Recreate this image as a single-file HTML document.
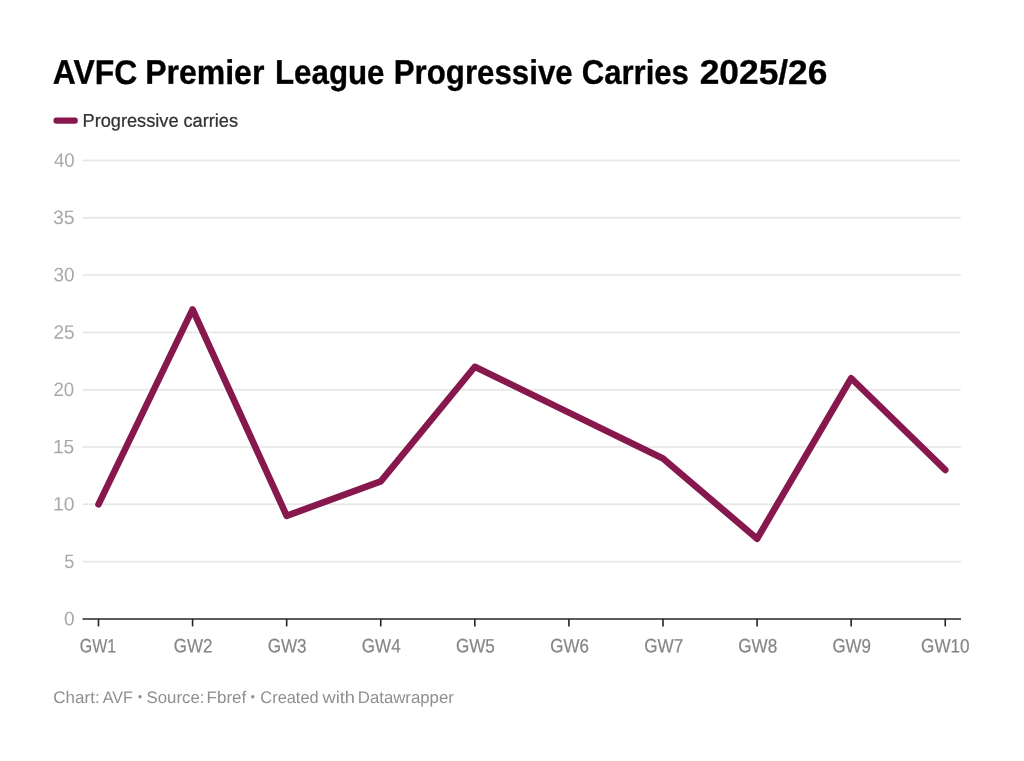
<!DOCTYPE html>
<html lang="en"><head><meta charset="utf-8"><title>AVFC Premier League Progressive Carries 2025/26</title>
<style>
html,body{margin:0;padding:0;background:#fff;}
body{width:1024px;height:761px;overflow:hidden;font-family:"Liberation Sans", sans-serif;}
svg{display:block;will-change:transform;}
text{font-family:"Liberation Sans", sans-serif;}
</style></head><body>
<svg width="1024" height="761" viewBox="0 0 1024 761">
<rect width="1024" height="761" fill="#ffffff"/>
<g id="texts">
<text transform="rotate(0.05 94.96 83.90)" x="52.76" y="83.90" font-size="34.2" font-weight="bold" fill="#000000" stroke="#000000" stroke-width="0.32" textLength="84.41" lengthAdjust="spacingAndGlyphs">AVFC</text>
<text transform="rotate(0.05 204.77 83.90)" x="145.16" y="83.90" font-size="34.2" font-weight="bold" fill="#000000" stroke="#000000" stroke-width="0.32" textLength="119.22" lengthAdjust="spacingAndGlyphs">Premier</text>
<text transform="rotate(0.05 329.76 83.90)" x="274.98" y="83.90" font-size="34.2" font-weight="bold" fill="#000000" stroke="#000000" stroke-width="0.32" textLength="109.57" lengthAdjust="spacingAndGlyphs">League</text>
<text transform="rotate(0.05 483.21 83.90)" x="393.70" y="83.90" font-size="34.2" font-weight="bold" fill="#000000" stroke="#000000" stroke-width="0.32" textLength="179.01" lengthAdjust="spacingAndGlyphs">Progressive</text>
<text transform="rotate(0.05 635.31 83.90)" x="581.69" y="83.90" font-size="34.2" font-weight="bold" fill="#000000" stroke="#000000" stroke-width="0.32" textLength="107.24" lengthAdjust="spacingAndGlyphs">Carries</text>
<text transform="rotate(0.05 763.56 83.90)" x="699.73" y="83.90" font-size="34.2" font-weight="bold" fill="#000000" stroke="#000000" stroke-width="0.32" textLength="127.66" lengthAdjust="spacingAndGlyphs">2025/26</text>
<text transform="rotate(0.05 160.33 126.75)" x="82.59" y="126.75" font-size="18.4" font-weight="normal" fill="#333333" stroke="#333333" stroke-width="0.25" textLength="155.47" lengthAdjust="spacingAndGlyphs">Progressive carries</text>
<text transform="rotate(0.05 98.05 652.40)" x="79.87" y="652.40" font-size="19.4" font-weight="normal" fill="#858585" stroke="#858585" stroke-width="0.2" textLength="36.35" lengthAdjust="spacingAndGlyphs">GW1</text>
<text transform="rotate(0.05 193.11 652.40)" x="173.80" y="652.40" font-size="19.4" font-weight="normal" fill="#858585" stroke="#858585" stroke-width="0.2" textLength="38.61" lengthAdjust="spacingAndGlyphs">GW2</text>
<text transform="rotate(0.05 287.14 652.40)" x="267.67" y="652.40" font-size="19.4" font-weight="normal" fill="#858585" stroke="#858585" stroke-width="0.2" textLength="38.94" lengthAdjust="spacingAndGlyphs">GW3</text>
<text transform="rotate(0.05 381.24 652.40)" x="361.82" y="652.40" font-size="19.4" font-weight="normal" fill="#858585" stroke="#858585" stroke-width="0.2" textLength="38.84" lengthAdjust="spacingAndGlyphs">GW4</text>
<text transform="rotate(0.05 475.37 652.40)" x="455.93" y="652.40" font-size="19.4" font-weight="normal" fill="#858585" stroke="#858585" stroke-width="0.2" textLength="38.87" lengthAdjust="spacingAndGlyphs">GW5</text>
<text transform="rotate(0.05 569.59 652.40)" x="550.29" y="652.40" font-size="19.4" font-weight="normal" fill="#858585" stroke="#858585" stroke-width="0.2" textLength="38.59" lengthAdjust="spacingAndGlyphs">GW6</text>
<text transform="rotate(0.05 663.65 652.40)" x="644.13" y="652.40" font-size="19.4" font-weight="normal" fill="#858585" stroke="#858585" stroke-width="0.2" textLength="39.04" lengthAdjust="spacingAndGlyphs">GW7</text>
<text transform="rotate(0.05 757.79 652.40)" x="738.30" y="652.40" font-size="19.4" font-weight="normal" fill="#858585" stroke="#858585" stroke-width="0.2" textLength="38.99" lengthAdjust="spacingAndGlyphs">GW8</text>
<text transform="rotate(0.05 851.73 652.40)" x="832.43" y="652.40" font-size="19.4" font-weight="normal" fill="#858585" stroke="#858585" stroke-width="0.2" textLength="38.60" lengthAdjust="spacingAndGlyphs">GW9</text>
<text transform="rotate(0.05 945.35 652.40)" x="921.05" y="652.40" font-size="19.4" font-weight="normal" fill="#858585" stroke="#858585" stroke-width="0.2" textLength="48.61" lengthAdjust="spacingAndGlyphs">GW10</text>
<text transform="rotate(0.05 69.31 625.28)" x="64.02" y="625.28" font-size="19.4" font-weight="normal" fill="#a8a8a8" textLength="10.57" lengthAdjust="spacingAndGlyphs">0</text>
<text transform="rotate(0.05 69.22 567.95)" x="64.19" y="567.95" font-size="19.4" font-weight="normal" fill="#a8a8a8" textLength="10.06" lengthAdjust="spacingAndGlyphs">5</text>
<text transform="rotate(0.05 63.66 510.63)" x="52.92" y="510.63" font-size="19.4" font-weight="normal" fill="#a8a8a8" textLength="21.48" lengthAdjust="spacingAndGlyphs">10</text>
<text transform="rotate(0.05 63.62 453.30)" x="52.94" y="453.30" font-size="19.4" font-weight="normal" fill="#a8a8a8" textLength="21.36" lengthAdjust="spacingAndGlyphs">15</text>
<text transform="rotate(0.05 63.85 395.98)" x="53.45" y="395.98" font-size="19.4" font-weight="normal" fill="#a8a8a8" textLength="20.79" lengthAdjust="spacingAndGlyphs">20</text>
<text transform="rotate(0.05 64.12 338.65)" x="53.54" y="338.65" font-size="19.4" font-weight="normal" fill="#a8a8a8" textLength="21.18" lengthAdjust="spacingAndGlyphs">25</text>
<text transform="rotate(0.05 64.09 281.33)" x="53.55" y="281.33" font-size="19.4" font-weight="normal" fill="#a8a8a8" textLength="21.09" lengthAdjust="spacingAndGlyphs">30</text>
<text transform="rotate(0.05 63.66 224.01)" x="52.88" y="224.01" font-size="19.4" font-weight="normal" fill="#a8a8a8" textLength="21.56" lengthAdjust="spacingAndGlyphs">35</text>
<text transform="rotate(0.05 64.26 166.68)" x="53.90" y="166.68" font-size="19.4" font-weight="normal" fill="#a8a8a8" textLength="20.72" lengthAdjust="spacingAndGlyphs">40</text>
<text transform="rotate(0.05 76.50 703.00)" x="53.35" y="703.00" font-size="16.8" font-weight="normal" fill="#8f8f8f" textLength="46.31" lengthAdjust="spacingAndGlyphs">Chart:</text>
<text transform="rotate(0.05 117.81 703.00)" x="102.71" y="703.00" font-size="16.8" font-weight="normal" fill="#8f8f8f" textLength="30.20" lengthAdjust="spacingAndGlyphs">AVF</text>
<text transform="rotate(0.05 175.46 703.00)" x="146.46" y="703.00" font-size="16.8" font-weight="normal" fill="#8f8f8f" textLength="58.01" lengthAdjust="spacingAndGlyphs">Source:</text>
<text transform="rotate(0.05 226.47 703.00)" x="206.59" y="703.00" font-size="16.8" font-weight="normal" fill="#8f8f8f" textLength="39.75" lengthAdjust="spacingAndGlyphs">Fbref</text>
<text transform="rotate(0.05 289.50 703.00)" x="260.33" y="703.00" font-size="16.8" font-weight="normal" fill="#8f8f8f" textLength="58.34" lengthAdjust="spacingAndGlyphs">Created</text>
<text transform="rotate(0.05 338.79 703.00)" x="322.57" y="703.00" font-size="16.8" font-weight="normal" fill="#8f8f8f" textLength="32.43" lengthAdjust="spacingAndGlyphs">with</text>
<text transform="rotate(0.05 405.82 703.00)" x="357.80" y="703.00" font-size="16.8" font-weight="normal" fill="#8f8f8f" textLength="96.04" lengthAdjust="spacingAndGlyphs">Datawrapper</text>
</g>
<circle cx="139.95" cy="696.8" r="1.7" fill="#8f8f8f"/>
<circle cx="252.75" cy="696.8" r="1.7" fill="#8f8f8f"/>
<rect x="53.5" y="117.6" width="24.3" height="6.2" rx="2.7" ry="2.7" fill="#87184e"/>
<g id="grid">
<line x1="82.5" x2="961.0" y1="561.67" y2="561.67" stroke="#ebebeb" stroke-width="2.0"/>
<line x1="82.5" x2="961.0" y1="504.35" y2="504.35" stroke="#f1f1f1" stroke-width="1.9"/>
<line x1="83" x2="961.0" y1="504.35" y2="504.35" stroke="#dcdcdc" stroke-width="1.5" stroke-dasharray="1 1"/>
<line x1="82.5" x2="961.0" y1="447.02" y2="447.02" stroke="#ebebeb" stroke-width="2.0"/>
<line x1="82.5" x2="961.0" y1="389.70" y2="389.70" stroke="#f1f1f1" stroke-width="1.9"/>
<line x1="83" x2="961.0" y1="389.70" y2="389.70" stroke="#dcdcdc" stroke-width="1.5" stroke-dasharray="1 1"/>
<line x1="82.5" x2="961.0" y1="332.38" y2="332.38" stroke="#f1f1f1" stroke-width="1.9"/>
<line x1="83" x2="961.0" y1="332.38" y2="332.38" stroke="#dcdcdc" stroke-width="1.5" stroke-dasharray="1 1"/>
<line x1="82.5" x2="961.0" y1="275.05" y2="275.05" stroke="#ebebeb" stroke-width="2.0"/>
<line x1="82.5" x2="961.0" y1="217.73" y2="217.73" stroke="#f1f1f1" stroke-width="1.9"/>
<line x1="83" x2="961.0" y1="217.73" y2="217.73" stroke="#dcdcdc" stroke-width="1.5" stroke-dasharray="1 1"/>
<line x1="82.5" x2="961.0" y1="160.40" y2="160.40" stroke="#f1f1f1" stroke-width="1.9"/>
<line x1="83" x2="961.0" y1="160.40" y2="160.40" stroke="#dcdcdc" stroke-width="1.5" stroke-dasharray="1 1"/>
</g>
<g id="ylabels">
</g>
<line x1="82.5" x2="961.0" y1="619.0" y2="619.0" stroke="#242424" stroke-width="1.7"/>
<line x1="98.50" x2="98.50" y1="619.0" y2="626.4" stroke="#242424" stroke-width="1.6"/>
<line x1="192.58" x2="192.58" y1="619.0" y2="626.4" stroke="#242424" stroke-width="1.6"/>
<line x1="286.67" x2="286.67" y1="619.0" y2="626.4" stroke="#242424" stroke-width="1.6"/>
<line x1="380.75" x2="380.75" y1="619.0" y2="626.4" stroke="#242424" stroke-width="1.6"/>
<line x1="474.83" x2="474.83" y1="619.0" y2="626.4" stroke="#242424" stroke-width="1.6"/>
<line x1="568.92" x2="568.92" y1="619.0" y2="626.4" stroke="#242424" stroke-width="1.6"/>
<line x1="663.00" x2="663.00" y1="619.0" y2="626.4" stroke="#242424" stroke-width="1.6"/>
<line x1="757.08" x2="757.08" y1="619.0" y2="626.4" stroke="#242424" stroke-width="1.6"/>
<line x1="851.17" x2="851.17" y1="619.0" y2="626.4" stroke="#242424" stroke-width="1.6"/>
<line x1="945.25" x2="945.25" y1="619.0" y2="626.4" stroke="#242424" stroke-width="1.6"/>
<polyline points="98.50,504.35 192.58,309.44 286.67,515.81 380.75,481.42 474.83,366.77 568.92,412.63 663.00,458.49 757.08,538.75 851.17,378.24 945.25,469.95" fill="none" stroke="#87184e" stroke-width="6.6" stroke-linejoin="round" stroke-linecap="round"/>
</svg>
</body></html>
